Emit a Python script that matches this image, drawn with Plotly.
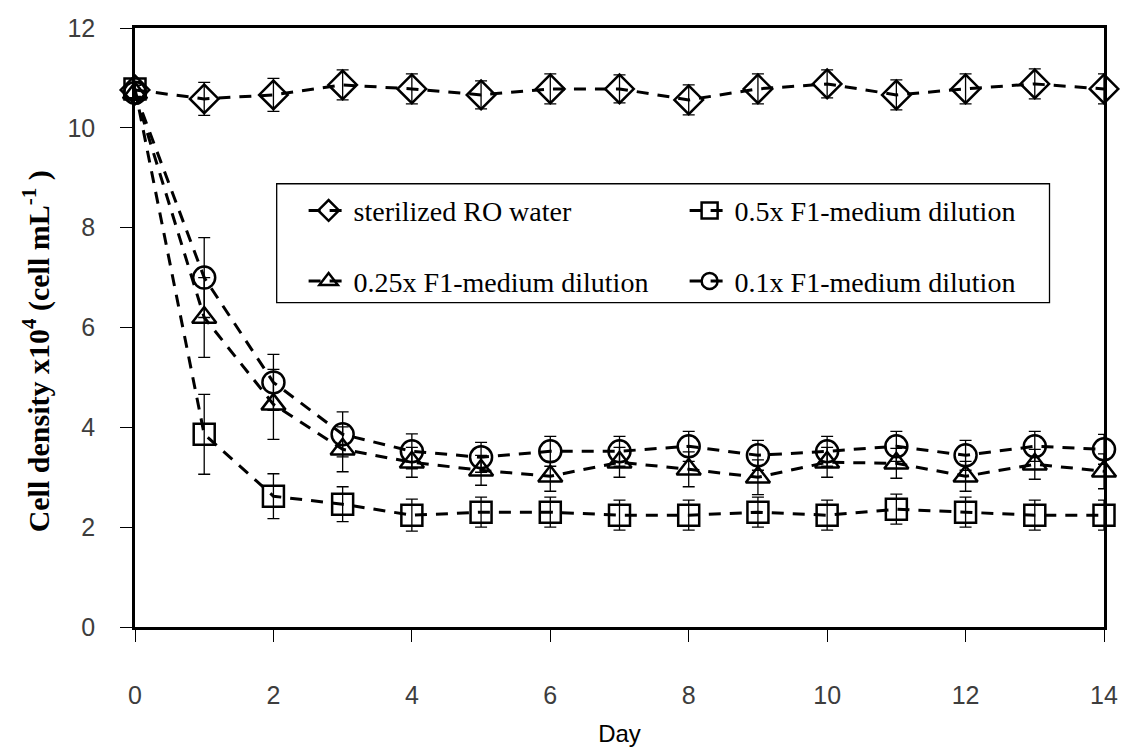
import plotly.graph_objects as go

days = list(range(15))

ro_water = [10.76, 10.58, 10.66, 10.86, 10.78, 10.66, 10.78, 10.78, 10.56, 10.78, 10.88, 10.66, 10.78, 10.88, 10.78]
ro_err = [0.15, 0.33, 0.33, 0.3, 0.3, 0.28, 0.3, 0.28, 0.3, 0.3, 0.28, 0.3, 0.3, 0.3, 0.3]

f1_050 = [10.78, 3.86, 2.62, 2.46, 2.24, 2.3, 2.3, 2.24, 2.24, 2.3, 2.24, 2.36, 2.3, 2.24, 2.24]
f1_050_err = [0.15, 0.8, 0.45, 0.35, 0.32, 0.3, 0.3, 0.3, 0.3, 0.3, 0.3, 0.3, 0.3, 0.3, 0.3]

f1_025 = [10.7, 6.2, 4.46, 3.56, 3.3, 3.14, 3.02, 3.3, 3.16, 3.0, 3.3, 3.28, 3.02, 3.26, 3.12]
f1_025_err = [0.15, 0.8, 0.7, 0.45, 0.3, 0.3, 0.3, 0.3, 0.35, 0.35, 0.3, 0.3, 0.3, 0.3, 0.35]

f1_010 = [10.7, 7.0, 4.9, 3.86, 3.52, 3.4, 3.52, 3.52, 3.62, 3.44, 3.52, 3.62, 3.44, 3.62, 3.56]
f1_010_err = [0.15, 0.8, 0.56, 0.45, 0.35, 0.3, 0.3, 0.3, 0.3, 0.3, 0.3, 0.3, 0.3, 0.3, 0.3]

names = ["sterilized RO water", "0.5x F1-medium dilution",
         "0.25x F1-medium dilution", "0.1x F1-medium dilution"]
series = [ro_water, f1_050, f1_025, f1_010]
errors = [ro_err, f1_050_err, f1_025_err, f1_010_err]
symbols = ["diamond-open", "square-open", "triangle-up-open", "circle-open"]
sizes = [22, 21, 21, 22]
legends = ["legend", "legend", "legend2", "legend2"]

fig = go.Figure()
for name, y, e, sym, sz, lg in zip(names, series, errors, symbols, sizes, legends):
    fig.add_trace(go.Scatter(
        x=days, y=y, name=name, mode="lines+markers",
        line=dict(color="black", width=3, dash="12px,9px"),
        marker=dict(symbol=sym, size=sz, color="black",
                    line=dict(color="black", width=2.5)),
        error_y=dict(type="data", array=e, visible=True,
                     color="black", thickness=1.3, width=6),
        cliponaxis=False, legend=lg,
    ))

legend_font = dict(family="Liberation Serif, Times New Roman, serif", size=28, color="black")
fig.update_layout(
    width=1130, height=756,
    margin=dict(l=135, r=17, t=28, b=128),
    paper_bgcolor="white", plot_bgcolor="white",
    showlegend=True,
    legend=dict(orientation="h", x=0.174, y=0.695, xanchor="left", yanchor="middle",
                font=legend_font, entrywidth=326, bgcolor="rgba(0,0,0,0)",
                itemwidth=40),
    legend2=dict(orientation="h", x=0.174, y=0.577, xanchor="left", yanchor="middle",
                 font=legend_font, entrywidth=326, bgcolor="rgba(0,0,0,0)",
                 itemwidth=40),
    shapes=[dict(type="rect", xref="paper", yref="paper",
                 x0=(278 - 135) / 978, x1=(1058 - 135) / 978,
                 y0=(628 - 303) / 600, y1=(628 - 184) / 600,
                 line=dict(color="black", width=1.3), fillcolor="rgba(0,0,0,0)")],
    annotations=[dict(
        text="<b>Cell density x10<sup>4</sup> (cell mL<sup>-1</sup> )</b>",
        xref="paper", yref="paper", x=(36 - 135) / 978, y=(628 - 352) / 600,
        xanchor="center", yanchor="middle", textangle=-90, showarrow=False,
        font=dict(family="Liberation Serif, Times New Roman, serif", size=30, color="black"),
    )],
)

tick_font = dict(family="Liberation Sans, Arial, sans-serif", size=25, color="#3d3d3d")
fig.update_xaxes(
    range=[0, 14], tickvals=[0, 2, 4, 6, 8, 10, 12, 14],
    ticks="outside", ticklen=12, tickwidth=1.3, tickcolor="black",
    showline=True, linecolor="black", linewidth=2.5, mirror=True,
    showgrid=False, zeroline=False,
    tickfont=tick_font, ticklabelstandoff=32,
    title=dict(text="Day", font=dict(family="Liberation Sans, Arial, sans-serif", size=24, color="black"),
               standoff=18),
)
fig.update_yaxes(
    range=[0, 12], tickvals=[0, 2, 4, 6, 8, 10, 12],
    ticks="outside", ticklen=12, tickwidth=1.3, tickcolor="black",
    showline=True, linecolor="black", linewidth=2.5, mirror=True,
    showgrid=False, zeroline=False,
    tickfont=tick_font, ticksuffix="\u2002", ticklabelstandoff=20,
)

fig.write_html("out.html")
